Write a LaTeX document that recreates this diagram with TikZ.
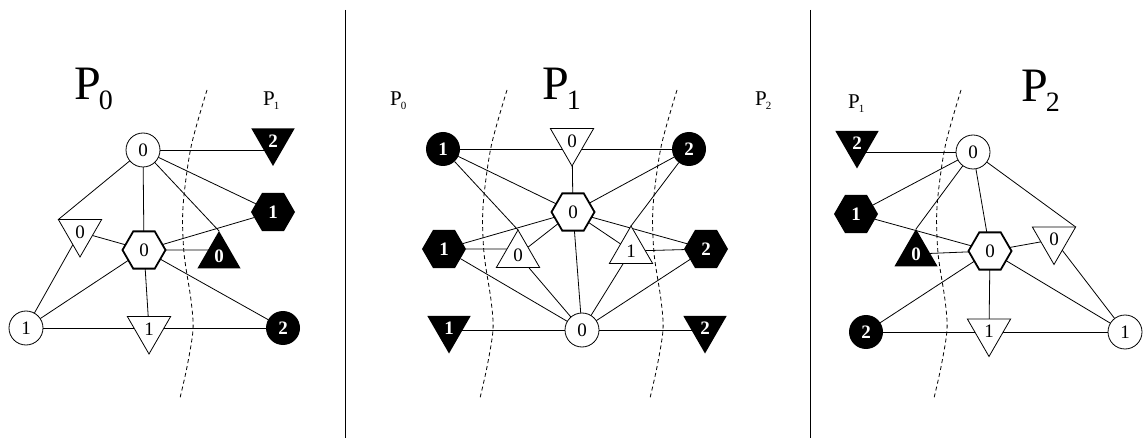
\documentclass[tikz,border=0pt]{standalone}
\usepackage{fontspec}
\setmainfont{Liberation Serif}
\usetikzlibrary{shapes.geometric,backgrounds}
\newcommand{\bigP}[1]{{\fontsize{48}{48}\selectfont P}\kern-2pt\raisebox{-10pt}{\fontsize{28}{28}\selectfont #1}}
\newcommand{\smallP}[1]{{\fontsize{21}{21}\selectfont P}\kern-1pt\raisebox{-4pt}{\fontsize{11}{11}\selectfont #1}}
\tikzset{
  base/.style={inner sep=0pt, outer sep=0pt, font=\fontsize{19}{19}\selectfont, line width=0.8pt},
  bold/.style={text=white, font=\fontsize{19}{19}\selectfont\bfseries},
  wc/.style={base, circle, draw, fill=white, minimum size=34pt},
  bc/.style={base, bold, circle, fill=black, minimum size=34pt},
  whex/.style={base, regular polygon, regular polygon sides=6, minimum size=43pt, draw, fill=white, line width=1.8pt},
  bhex/.style={base, bold, regular polygon, regular polygon sides=6, minimum size=44pt, fill=black},
  wdown/.style={base, regular polygon, regular polygon sides=3, shape border rotate=180, minimum size=50pt, draw, fill=white},
  wup/.style={base, regular polygon, regular polygon sides=3, minimum size=50pt, draw, fill=white},
  bdown/.style={base, bold, regular polygon, regular polygon sides=3, shape border rotate=180, minimum size=50pt, fill=black},
  bup/.style={base, bold, regular polygon, regular polygon sides=3, minimum size=50pt, fill=black},
  edge/.style={line width=0.8pt},
  cut/.style={line width=0.8pt, dash pattern=on 4pt off 3pt},
  sep/.style={line width=1pt},
  lbl/.style={inner sep=0pt, anchor=base west}
}
\begin{document}
\begin{tikzpicture}[x=1pt,y=-1pt]
\useasboundingbox (0,0) rectangle (1143,438);
% separators
\draw[sep] (345,10) -- (345,438);
\draw[sep] (810,10) -- (810,438);
% labels
\node[lbl] (L1) at (74,100) {\bigP{0}};
\node[lbl] (L2) at (263,106) {\smallP{1}};
\node[lbl] (L3) at (390,106) {\smallP{0}};
\node[lbl] (L4) at (542,100) {\bigP{1}};
\node[lbl] (L5) at (755,106) {\smallP{2}};
\node[lbl] (L6) at (848,109) {\smallP{1}};
\node[lbl] (L7) at (1021,102) {\bigP{2}};
% ---------- panel 1 ----------
\node[wc] (a0) at (143,150) {0};
\node[bdown] (atB2) at (273,141) {2};
\node[bhex] (ahB1) at (273,212) {1};
\node[bup] (atB0) at (219,256) {0};
\node[whex] (ahW0) at (144,250) {0};
\node[wdown] (atW0) at (80,232) {0};
\node[wc] (a1) at (26,328) {1};
\node[wdown] (atW1) at (149,329) {1};
\node[bc] (acB2) at (283,328) {2};
% ---------- panel 2 ----------
\node[bc] (bcB1) at (443,149) {1};
\node[wdown] (btW0) at (572,141) {0};
\node[bc] (bcB2) at (689,149) {2};
\node[whex] (bhW0) at (573,212) {0};
\node[bhex] (bhB1) at (444,249) {1};
\node[wup] (btW0u) at (518,255) {0};
\node[wup] (btW1u) at (631,251) {1};
\node[bhex] (bhB2) at (706,249) {2};
\node[bdown] (btB1) at (449,328.5) {1};
\node[wc] (bc0) at (582,330) {0};
\node[bdown] (btB2) at (705,328.5) {2};
% ---------- panel 3 ----------
\node[bdown] (ctB2) at (857,143.5) {2};
\node[wc] (c0) at (973,152) {0};
\node[bhex] (chB1) at (856,214) {1};
\node[bup] (ctB0) at (916,254) {0};
\node[whex] (chW0) at (990,251) {0};
\node[wdown] (ctW0) at (1054,239.5) {0};
\node[bc] (ccB2) at (866,332) {2};
\node[wdown] (ctW1) at (989,331.5) {1};
\node[wc] (c1) at (1125,332) {1};
\begin{pgfonlayer}{background}
\begin{scope}[edge]
% panel 1
\draw (a0) -- (a0 -| atB2);
\draw (a0) -- (ahB1);
\draw (a0) -- (atB0.corner 1);
\draw (a0) -- (ahW0);
\draw (a0) -- (atW0.corner 3);
\draw (atW0) -- (ahW0);
\draw (atW0) -- (a1);
\draw (ahW0) -- (ahB1);
\draw (ahW0) -- (ahW0 -| atB0);
\draw (ahW0) -- (acB2);
\draw (ahW0) -- (a1);
\draw (ahW0) -- (atW1);
\draw (a1) -- (acB2);
% panel 2
\draw (bcB1) -- (bcB2);
\draw (btW0) -- (bhW0);
\draw (bcB1) -- (bhW0);
\draw (bcB1) -- (btW0u.corner 1);
\draw (bcB2) -- (bhW0);
\draw (bcB2) -- (btW1u.corner 1);
\draw (bhW0) -- (bhB1);
\draw (bhW0) -- (btW0u);
\draw (bhW0) -- (btW1u);
\draw (bhW0) -- (bhB2);
\draw (bhW0) -- (bc0);
\draw (bhB1) -- (bhB1 -| btW0u);
\draw (bhB1) -- (bc0);
\draw (btW0u) -- (bc0);
\draw (btW1u) -- (bc0);
\draw (btW1u) -- (bhB2);
\draw (bhB2) -- (bc0);
\draw (btB1 |- bc0) -- (bc0 -| btB2);
% panel 3
\draw (c0 -| ctB2) -- (c0);
\draw (c0) -- (chB1);
\draw (c0) -- (ctB0.corner 1);
\draw (c0) -- (chW0);
\draw (c0) -- (ctW0.corner 2);
\draw (chB1) -- (chW0);
\draw (ctB0) -- (chW0);
\draw (chW0) -- (ctW0);
\draw (chW0) -- (ccB2);
\draw (chW0) -- (ctW1);
\draw (chW0) -- (c1);
\draw (ctW0) -- (c1);
\draw (ccB2) -- (c1);
\end{scope}
\end{pgfonlayer}
% dashed cuts
\foreach \dx in {0,300,470,754} {
  \draw[cut, xshift=\dx pt] plot[smooth] coordinates {(207,90) (191,147) (183,207) (184,253) (191,300) (193,330) (187,367) (180,398)};
}
\end{tikzpicture}
\end{document}
